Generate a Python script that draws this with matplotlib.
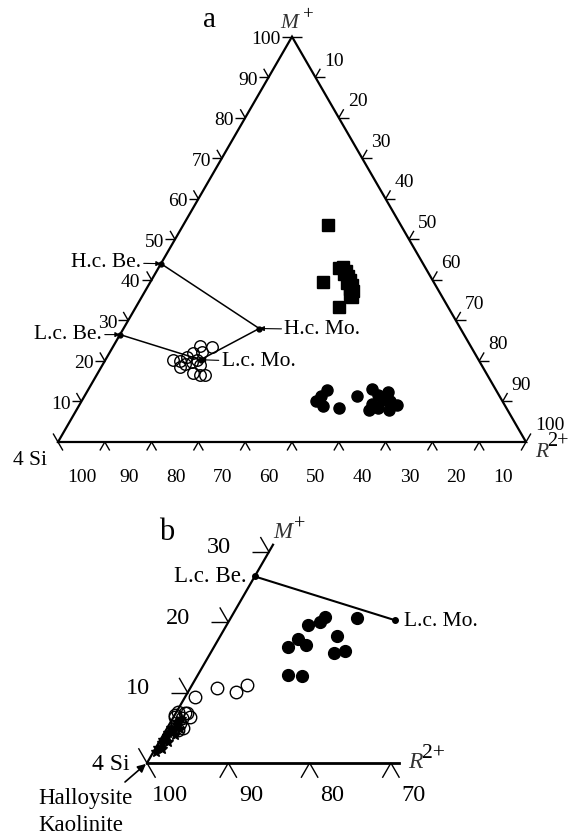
import numpy as np
import matplotlib
matplotlib.use('Agg')  # headless
import matplotlib.pyplot as plt

plt.rcParams['font.family'] = ['Liberation Serif', 'DejaVu Serif']

# --- data: ternary compositions as (M+, R2+) in %, 4Si = 100 - M - R ---
# reference end members
lc_be = (26.5, 0.0)
hc_be = (44.0, 0.0)
lc_mo = (20.3, 20.3)
hc_mo = (28.0, 29.0)

# panel a
open_a_m = [23.7, 23.4, 22.2, 22.0, 21.0, 20.2, 20.0, 19.2, 19.7, 20.2, 19.0, 17.0, 16.5, 16.5, 18.5]
open_a_r = [18.5, 21.2, 19.7, 17.8, 17.1, 14.5, 16.1, 17.5, 18.7, 19.6, 20.8, 20.3, 22.0, 23.1, 16.8]

square_m = [53.5, 39.5, 33.3, 42.9, 43.2, 42.2, 41.5, 41.0, 40.0, 39.2, 38.7, 37.7, 37.3, 36.5, 35.8]
square_r = [30.9, 36.9, 43.4, 38.6, 39.3, 40.4, 40.4, 41.5, 42.4, 42.2, 43.4, 43.5, 44.4, 44.1, 44.9]

dot_a_m = [12.8, 11.3, 10.1, 8.9, 8.4, 11.3, 13.1, 11.6, 12.3, 10.4, 9.4, 7.9, 8.4, 7.9, 9.1, 10.1]
dot_a_r = [51.1, 50.5, 50.0, 52.2, 55.8, 58.2, 60.6, 62.6, 64.3, 64.2, 62.4, 62.6, 64.2, 66.8, 67.8, 65.8]

# panel b (4Si corner)
dot_b_m = [20.7, 20.0, 19.6, 20.6, 18.0, 17.6, 16.8, 16.5, 15.6, 15.9, 12.5, 12.4]
dot_b_r = [11.6, 11.3, 10.0, 15.5, 14.4, 9.8, 11.2, 9.1, 15.2, 16.4, 11.1, 12.9]

open_b_m = [9.4, 10.7, 10.1, 11.1, 7.2, 7.1, 6.5, 5.7, 4.7, 5.0, 6.8, 6.5, 7.1, 6.4]
open_b_r = [1.2, 3.3, 5.9, 6.8, 0.2, 1.1, 2.0, 1.2, 1.5, 1.9, 0.0, 0.2, 1.35, 1.1]

star_m = [1.5, 2.2, 2.8, 3.3, 3.8, 4.3, 4.6, 5.0, 5.4, 3.0, 4.0, 5.8, 2.0, 4.9, 6.2]
star_r = [0.3, 0.2, 0.5, 0.3, 0.6, 0.4, 0.9, 0.5, 1.0, 1.1, 1.4, 0.8, 0.9, 1.6, 1.1]

tick_vals_a = [0, 10, 20, 30, 40, 50, 60, 70, 80, 90, 100]
left_ticks_b = [0, 10, 20, 30]
bottom_ticks_b = [100, 90, 80, 70]

SQ3 = np.sqrt(3) / 2


def tern(m, r):
    """(M+, R2+) percentages -> cartesian, 4Si at origin."""
    m = np.asarray(m, dtype=float)
    r = np.asarray(r, dtype=float)
    return r + m / 2, m * SQ3


def tick(ax, x, y, angles, length, lw=1.0):
    for a in angles:
        t = np.radians(a)
        ax.plot([x, x + length * np.cos(t)], [y, y + length * np.sin(t)],
                color='k', lw=lw, solid_capstyle='butt')


def label(ax, text, xy, off, size, ha='center', va='center', **kw):
    ax.annotate(text, xy=xy, xytext=off, textcoords='offset pixels',
                ha=ha, va=va, fontsize=size, annotation_clip=False, **kw)


def ion_label(ax, base, sup, xy, off, sup_off, size, sup_size):
    # italic symbol with a big charge superscript, as in the original figure
    label(ax, base, xy, off, size, ha='left', va='baseline',
          fontstyle='italic', color='#333333')
    label(ax, sup, xy, sup_off, sup_size, ha='left', va='center')


fig = plt.figure(figsize=(5.76, 8.38), dpi=100)

# ---------------- panel a ----------------
ax = fig.add_axes([0, 338 / 838, 1, 500 / 838])
ax.set_xlim(-58 / 4.68, 518 / 4.68)
ax.set_ylim(-58 / 4.68, 442 / 4.68)
ax.axis('off')

x, y = tern([0, 0, 100, 0], [0, 100, 0, 0])
ax.plot(x, y, color='k', lw=1.6, solid_joinstyle='miter')

L = 2.1
for v in tick_vals_a:
    # left edge (M+)
    ang = [180, 120]
    if v == 0:
        ang.remove(180)
    if v == 100:
        ang.remove(120)
    tick(ax, *tern(v, 0), ang, L)
    # right edge (R2+)
    ang = [0, 60]
    if v == 0:
        ang.remove(60)
    if v == 100:
        ang.remove(0)
    tick(ax, *tern(100 - v, v), ang, L)
    # bottom edge (4Si)
    ang = [240, 300]
    if v == 100:
        ang.remove(240)
    if v == 0:
        ang.remove(300)
    tick(ax, *tern(0, 100 - v), ang, L)

for v in tick_vals_a[1:]:
    label(ax, str(v), tern(v, 0), (-11, -3), 14, ha='right')
    label(ax, str(v), tern(100 - v, v), (9, 17 if v == 100 else 16), 14, ha='left')
    label(ax, str(v), tern(0, 100 - v), (24, -35), 14)

label(ax, '4 Si', tern(0, 0), (-11, -18), 15.5, ha='right')
ion_label(ax, 'R', '2+', tern(0, 100), (9, -15), (21, 1), 15.5, 14.5)
ion_label(ax, 'M', '+', tern(100, 0), (-12, 9), (11, 22), 15.5, 13.5)

# end-member tie lines
path = [lc_be, lc_mo, hc_mo, hc_be]
px, py = tern([p[0] for p in path], [p[1] for p in path])
ax.plot(px, py, color='k', lw=1.1, marker='o', ms=3.5, zorder=3)

arrow = dict(arrowstyle='-|>', color='k', lw=0.8, mutation_scale=7, shrinkA=0, shrinkB=0)
label(ax, 'H.c. Be.', tern(*hc_be), (-20, 1), 15.5, ha='right', arrowprops=arrow)
label(ax, 'L.c. Be.', tern(*lc_be), (-18, 0), 15.5, ha='right', arrowprops=arrow)
label(ax, 'H.c. Mo.', tern(*hc_mo), (25, -1), 15.5, ha='left', arrowprops=arrow)
label(ax, 'L.c. Mo.', tern(*lc_mo), (21, -2), 15.5, ha='left', arrowprops=arrow)

ax.plot(*tern(open_a_m, open_a_r), ls='none', marker='o', ms=8.3,
        mfc='none', mec='k', mew=1.0, zorder=4)
ax.plot(*tern(square_m, square_r), ls='none', marker='s', ms=8.8,
        color='k', zorder=4)
ax.plot(*tern(dot_a_m, dot_a_r), ls='none', marker='o', ms=8.0,
        color='k', zorder=4)

# ---------------- panel b ----------------
axb = fig.add_axes([0, 0, 1, 338 / 838])
axb.set_xlim(-147 / 8.13, 429 / 8.13)
axb.set_ylim(-75 / 8.13, 263 / 8.13)
axb.axis('off')

axb.plot(*tern([0, 31], [0, 0]), color='k', lw=1.6)
axb.plot(*tern([0, 0], [0, 31]), color='k', lw=2.0)

for v in left_ticks_b:
    ang = [180, 120] if v else [120]
    tick(axb, *tern(v, 0), ang, L)
    if v:
        label(axb, str(v), tern(v, 0), (-38, 4), 17.5, ha='right')
for v in bottom_ticks_b:
    ang = [240, 300] if v != 100 else [300]
    tick(axb, *tern(0, 100 - v), ang, L)
    label(axb, str(v), tern(0, 100 - v), (23, -32), 17.5)

label(axb, '4 Si', tern(0, 0), (-17, -1), 17, ha='right')
ion_label(axb, 'R', '2+', tern(0, 31), (9, -5), (23, 10), 17, 15.5)
ion_label(axb, 'M', '+', tern(31, 0), (0, 7), (21, 20), 16.5, 14.5)

bx, by = tern([lc_be[0], lc_mo[0]], [lc_be[1], lc_mo[1]])
axb.plot(bx, by, color='k', lw=1.5, marker='o', ms=4, zorder=3)
label(axb, 'L.c. Be.', tern(*lc_be), (-8, 0), 16.5, ha='right')
label(axb, 'L.c. Mo.', tern(*lc_mo), (9, -1), 15.5, ha='left')

axb.annotate('', xy=tern(0, 0), xytext=(-22, -19), textcoords='offset pixels',
             arrowprops=dict(arrowstyle='-|>', color='k', lw=1.2, mutation_scale=12,
                             shrinkA=0, shrinkB=1))
label(axb, 'Halloysite', tern(0, 0), (-109, -35), 16.5, ha='left')
label(axb, 'Kaolinite', tern(0, 0), (-109, -62), 16.5, ha='left')

axb.plot(*tern(star_m, star_r), ls='none', marker='*', ms=8, color='k', zorder=4)
axb.plot(*tern(open_b_m, open_b_r), ls='none', marker='o', ms=9,
         mfc='none', mec='k', mew=1.0, zorder=4)
axb.plot(*tern(dot_b_m, dot_b_r), ls='none', marker='o', ms=8.5,
         color='k', zorder=4)

fig.text(210 / 576, 1 - 20 / 838, 'a', fontsize=21, ha='center', va='center')
fig.text(167 / 576, 1 - 532 / 838, 'b', fontsize=22, ha='center', va='center')

fig.savefig('out.png', dpi=100)
